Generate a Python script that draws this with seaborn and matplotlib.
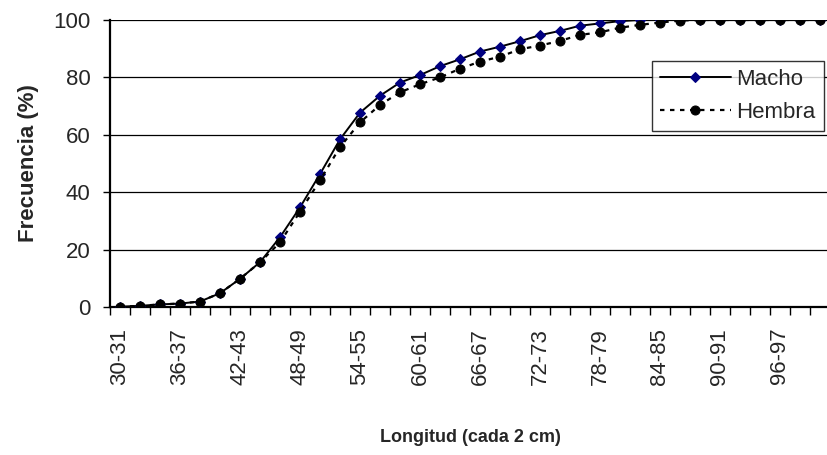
import numpy as np
import pandas as pd
import matplotlib
matplotlib.use("Agg")
import matplotlib.pyplot as plt
import seaborn as sns

# length classes (every 2 cm)
clases = [f"{a}-{a + 1}" for a in range(30, 101, 2)]

macho = [0.1, 0.4, 0.9, 1.2, 1.9, 4.8, 9.8, 15.6, 24.3, 34.7, 46.3, 58.4,
         67.7, 73.6, 78.2, 80.8, 83.9, 86.3, 89.0, 90.7, 92.6, 94.7, 96.2, 98.0,
         98.8, 99.6, 100, 100, 100, 100, 100, 100, 100, 100, 100, 100]
hembra = [0.1, 0.4, 0.9, 1.2, 1.9, 4.8, 9.8, 15.6, 22.5, 33.2, 44.1, 55.7,
          64.3, 70.4, 74.8, 77.6, 80.0, 83.0, 85.5, 87.2, 89.8, 91.1, 92.7, 94.8,
          95.7, 97.3, 98.3, 99.1, 99.8, 100, 100, 100, 100, 100, 100, 100]

df = pd.DataFrame({"idx": np.arange(len(clases)), "clase": clases,
                   "Macho": macho, "Hembra": hembra})

sns.set_style("white")
plt.rcParams["font.family"] = ["Liberation Sans", "DejaVu Sans"]

fig = plt.figure(figsize=(8.27, 4.55), dpi=100)
ax = fig.add_axes([0.133, 0.3253, 0.8706, 0.6308])

sns.lineplot(data=df, x="idx", y="Macho", ax=ax, color="black", lw=1.4,
             marker="D", markersize=5.5, markerfacecolor="#000080",
             markeredgecolor="#000080", label="Macho", zorder=3)
sns.lineplot(data=df, x="idx", y="Hembra", ax=ax, color="black", lw=1.6,
             linestyle=(0, (2, 2.5)), marker="o", markersize=6.5,
             markerfacecolor="black", markeredgecolor="black",
             label="Hembra", zorder=4)

ax.set_xlim(-0.5, len(clases) - 0.5)
ax.set_ylim(0, 100)
ax.set_yticks(range(0, 101, 20))
ax.yaxis.grid(True, color="black", lw=0.9)
ax.set_axisbelow(True)

ax.set_xticks(np.arange(0, len(clases), 3))
ax.set_xticklabels(clases[::3], rotation=90, fontsize=16)
ax.set_xticks(np.arange(-0.5, len(clases), 1), minor=True)
ax.tick_params(axis="x", which="major", length=0, pad=15)
ax.tick_params(axis="x", which="minor", length=6, width=1, color="black",
               direction="out", bottom=True)
ax.tick_params(axis="y", length=5, width=1, color="black", direction="out",
               left=True, labelsize=16, pad=9)

for s in ["top", "right"]:
    ax.spines[s].set_visible(False)
for s in ["left", "bottom"]:
    ax.spines[s].set_color("black")
    ax.spines[s].set_linewidth(1.6)

ax.set_xlabel("Longitud (cada 2 cm)", fontsize=13, fontweight="bold",
              labelpad=32)
ax.set_ylabel("Frecuencia (%)", fontsize=16, fontweight="bold", labelpad=10)

leg = ax.legend(loc="upper left", bbox_to_anchor=(0.753, 0.857), fontsize=16,
                frameon=True, fancybox=False, edgecolor="black",
                handlelength=3.2, handletextpad=0.25, borderpad=0.35,
                labelspacing=0.55, borderaxespad=0)
leg.get_frame().set_linewidth(1.0)

fig.savefig("out.png", dpi=100)
